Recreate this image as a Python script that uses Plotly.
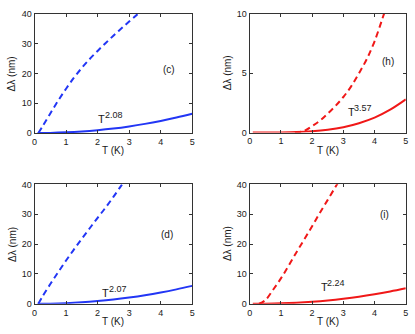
import plotly.graph_objects as go

# ---------------- data ----------------
T_solid = [0.1, 0.5, 1.0, 1.5, 2.0, 2.5, 3.0, 3.5, 4.0, 4.5, 5.0]

c_solid = [0.0, 0.05, 0.23, 0.53, 0.96, 1.52, 2.23, 3.08, 4.08, 5.22, 6.5]
c_dash_T = [0.12, 0.25, 0.5, 0.75, 1.0, 1.25, 1.5, 1.75, 2.0, 2.25, 2.5, 2.75, 3.0, 3.25, 3.4]
c_dash = [0.0, 2.2, 6.6, 10.9, 14.9, 18.6, 21.9, 24.9, 27.6, 30.2, 32.7, 35.1, 37.5, 39.8, 41.1]

h_solid = [0.0, 0.001, 0.009, 0.038, 0.106, 0.235, 0.45, 0.79, 1.26, 1.93, 2.8]
h_dash_T = [1.45, 1.75, 2.0, 2.25, 2.5, 2.75, 3.0, 3.25, 3.5, 3.75, 4.0, 4.25, 4.35]
h_dash = [0.0, 0.15, 0.55, 1.0, 1.6, 2.25, 3.0, 3.9, 5.0, 6.2, 7.7, 9.6, 10.4]

d_solid = [0.0, 0.05, 0.21, 0.49, 0.90, 1.42, 2.08, 2.86, 3.78, 4.83, 6.0]
d_dash_T = [0.12, 0.25, 0.5, 0.75, 1.0, 1.25, 1.5, 1.75, 2.0, 2.25, 2.5, 2.75, 2.9]
d_dash = [0.0, 2.4, 6.6, 10.6, 14.5, 18.2, 21.8, 25.3, 28.8, 32.2, 35.8, 39.6, 41.8]

i_solid = [0.0, 0.03, 0.14, 0.35, 0.67, 1.10, 1.66, 2.34, 3.17, 4.13, 5.2]
i_dash_T = [0.3, 0.5, 0.75, 1.0, 1.25, 1.5, 1.75, 2.0, 2.25, 2.5, 2.75, 2.85]
i_dash = [0.0, 1.2, 4.7, 8.5, 12.8, 17.3, 21.6, 26.0, 30.5, 34.8, 39.2, 40.9]

x_ticks = [0, 1, 2, 3, 4, 5]
panel_labels = ["(c)", "(h)", "(d)", "(i)"]
exponents = ["2.08", "3.57", "2.07", "2.24"]
y_max = [40, 10, 40, 40]
y_dtick = [10, 5, 10, 10]

BLUE = "#2236f5"
RED = "#f01818"
TXT = "#1a1a1a"
FONT = "Liberation Sans, Arial, sans-serif"

W, H = 415, 334
# axes boxes in pixels: (left, right, top, bottom)
boxes = [(32, 192, 9.3, 132), (250.3, 408.7, 9.3, 131.5),
         (32, 192, 184.9, 308), (250.3, 408.7, 184.9, 308)]

panels = [
    (T_solid, c_solid, c_dash_T, c_dash, BLUE),
    (T_solid, h_solid, h_dash_T, h_dash, RED),
    (T_solid, d_solid, d_dash_T, d_dash, BLUE),
    (T_solid, i_solid, i_dash_T, i_dash, RED),
]

# annotation positions (data coords): left edge / middle of the "T"
exp_pos = [(1.95, 4.7), (3.08, 1.71), (2.09, 3.6), (2.21, 5.7)]
lab_pos = [(4.27, 21.4), (4.44, 5.98), (4.2, 23.3), (4.32, 30.0)]

fig = go.Figure()
layout = dict(width=W, height=H, margin=dict(l=0, r=0, t=0, b=0),
              paper_bgcolor="white", plot_bgcolor="white", showlegend=False,
              font=dict(family=FONT, size=9, color=TXT))
annotations = []

for k, (ts, ys, td, yd, col) in enumerate(panels):
    n = "" if k == 0 else str(k + 1)
    xa, ya = "x" + n, "y" + n
    fig.add_trace(go.Scatter(x=ts, y=ys, mode="lines", xaxis=xa, yaxis=ya,
                             line=dict(color=col, width=2, shape="spline")))
    fig.add_trace(go.Scatter(x=td, y=yd, mode="lines", xaxis=xa, yaxis=ya,
                             line=dict(color=col, width=2, shape="spline", dash="6px,4px")))
    l, r, t, b = boxes[k]
    common = dict(showline=True, linecolor="#333", linewidth=1, mirror="ticks",
                  ticks="inside", ticklen=3, tickcolor="#333", showgrid=False,
                  zeroline=False, tickfont=dict(family=FONT, size=9, color=TXT))
    layout["xaxis" + n] = dict(domain=[l / W, r / W], range=[0, 5], tickvals=x_ticks,
                               anchor=ya, **common)
    layout["yaxis" + n] = dict(domain=[1 - b / H, 1 - t / H], range=[0, y_max[k]],
                               dtick=y_dtick[k], anchor=xa, **common)
    # axis titles
    annotations.append(dict(text="T (K)", xref="paper", yref="paper",
                            x=(l + r) / 2 / W, y=1 - (b + 18) / H, showarrow=False,
                            xanchor="center", yanchor="middle",
                            font=dict(family=FONT, size=10, color=TXT)))
    annotations.append(dict(text="Δλ (nm)", xref="paper", yref="paper",
                            x=(l - 23) / W, y=1 - (t + b) / 2 / H, showarrow=False,
                            textangle=-90, xanchor="center", yanchor="middle",
                            font=dict(family=FONT, size=10, color=TXT)))
    ex, ey = exp_pos[k]
    annotations.append(dict(text="T", xref=xa, yref=ya,
                            x=ex, y=ey, showarrow=False, xanchor="left", yanchor="middle",
                            font=dict(family=FONT, size=11, color=TXT)))
    annotations.append(dict(text=exponents[k], xref=xa, yref=ya,
                            x=ex, y=ey, xshift=6.5, yshift=4, showarrow=False,
                            xanchor="left", yanchor="middle",
                            font=dict(family=FONT, size=9, color=TXT)))
    lx, ly = lab_pos[k]
    annotations.append(dict(text=panel_labels[k], xref=xa, yref=ya, x=lx, y=ly,
                            showarrow=False, xanchor="center", yanchor="middle",
                            font=dict(family=FONT, size=10, color=TXT)))

layout["annotations"] = annotations
fig.update_layout(**layout)
fig.write_html("out.html", config={"displayModeBar": False},
               post_script="document.body.style.margin='0';document.body.style.overflow='hidden';")
